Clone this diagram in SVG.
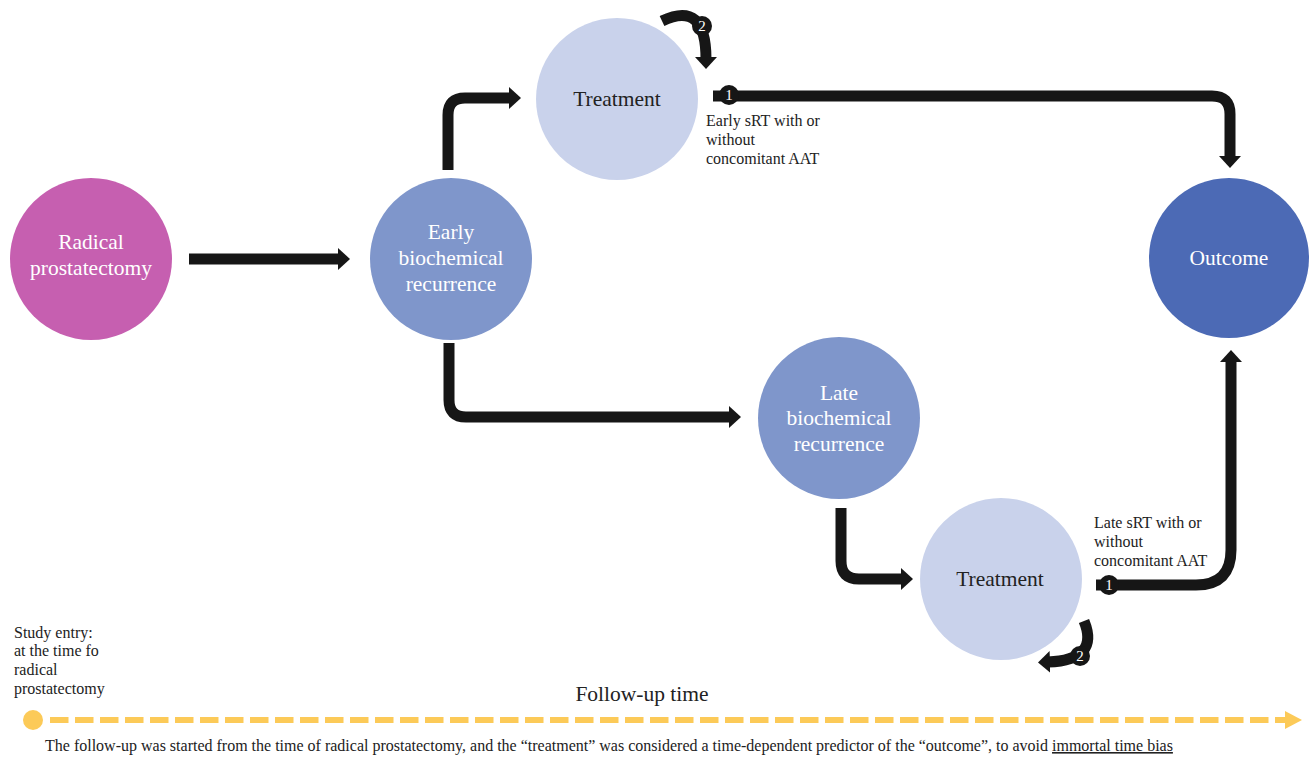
<svg xmlns="http://www.w3.org/2000/svg" width="1309" height="757" viewBox="0 0 1309 757">
<style>
.lbl{font-family:"Liberation Serif","Times New Roman",serif;font-size:21.5px;text-anchor:middle}
.w{fill:#ffffff}
.d{fill:#222222}
.note{font-family:"Liberation Serif","Times New Roman",serif;font-size:16px;fill:#222222}
.cap{font-family:"Liberation Serif","Times New Roman",serif;font-size:16px;fill:#222222}
.conn{fill:none;stroke:#161616;stroke-width:11}
.num{font-family:"Liberation Serif","Times New Roman",serif;font-size:15px;fill:#ffffff;text-anchor:middle}
</style>
<defs>
<marker id="ah" markerUnits="userSpaceOnUse" markerWidth="14" markerHeight="24" refX="2" refY="12" orient="auto">
<path d="M0,1 L12,12 L0,23 Z" fill="#161616"/>
</marker>
<marker id="ya" markerUnits="userSpaceOnUse" markerWidth="18" markerHeight="20" refX="0" refY="10" orient="auto">
<path d="M0,1 L17,10 L0,19 Z" fill="#FCCA58"/>
</marker>
</defs>
<rect width="1309" height="757" fill="#ffffff"/>

<g id="connectors">
<path class="conn" d="M189,259 L340,259" marker-end="url(#ah)"/>
<path class="conn" d="M448,170 L448,115 Q448,98 465,98 L511,98" marker-end="url(#ah)"/>
<path class="conn" d="M449,343 L449,400 Q449,417 466,417 L731,417" marker-end="url(#ah)"/>
<path class="conn" d="M841,508 L841,561 Q841,579 859,579 L903,579" marker-end="url(#ah)"/>
<path class="conn" d="M713,96 L1212,96 Q1230,96 1230,114 L1230,158" marker-end="url(#ah)"/>
<path class="conn" d="M1096,585 L1196,585 Q1231,585 1231,550 L1231,360" marker-end="url(#ah)"/>
<path class="conn" d="M662,21 Q706,0 706,59" marker-end="url(#ah)"/>
<path class="conn" d="M1084,621 Q1100,660 1048,662" marker-end="url(#ah)"/>
<circle cx="729" cy="95" r="10" fill="#161616"/>
<text class="num" x="729" y="100">1</text>
<circle cx="1109" cy="585" r="10" fill="#161616"/>
<text class="num" x="1109" y="590">1</text>
<circle cx="702" cy="26" r="10" fill="#161616"/>
<text class="num" x="702" y="31">2</text>
<circle cx="1080" cy="656" r="10" fill="#161616"/>
<text class="num" x="1080" y="661">2</text>
</g>

<g id="radical">
<circle cx="91" cy="259" r="81" fill="#C65FB0"/>
<text class="lbl w" x="91" y="249">Radical</text>
<text class="lbl w" x="91" y="275">prostatectomy</text>
</g>

<g id="early">
<circle cx="451" cy="259" r="81" fill="#7F96CB"/>
<text class="lbl w" x="451" y="239">Early</text>
<text class="lbl w" x="451" y="265">biochemical</text>
<text class="lbl w" x="451" y="291">recurrence</text>
</g>

<g id="treatment-top">
<circle cx="617" cy="99" r="81" fill="#C9D2EB"/>
<text class="lbl d" x="617" y="106">Treatment</text>
</g>

<g id="outcome">
<circle cx="1229" cy="258" r="80" fill="#4C6AB5"/>
<text class="lbl w" x="1229" y="265">Outcome</text>
</g>

<g id="late">
<circle cx="839" cy="418" r="81" fill="#7F96CB"/>
<text class="lbl w" x="839" y="400">Late</text>
<text class="lbl w" x="839" y="425">biochemical</text>
<text class="lbl w" x="839" y="451">recurrence</text>
</g>

<g id="treatment-bottom">
<circle cx="1001" cy="579" r="81" fill="#C9D2EB"/>
<text class="lbl d" x="1000" y="586">Treatment</text>
</g>

<g id="early-note">
<text class="note" x="706" y="126">Early sRT with or</text>
<text class="note" x="706" y="145">without</text>
<text class="note" x="706" y="164">concomitant AAT</text>
</g>

<g id="late-note">
<text class="note" x="1094" y="528">Late sRT with or</text>
<text class="note" x="1094" y="547">without</text>
<text class="note" x="1094" y="566">concomitant AAT</text>
</g>

<g id="study-entry">
<text class="note" x="14" y="638">Study entry:</text>
<text class="note" x="14" y="656">at the time fo</text>
<text class="note" x="14" y="675">radical</text>
<text class="note" x="14" y="694">prostatectomy</text>
</g>

<g id="timeline">
<text class="lbl d" x="642" y="701">Follow-up time</text>
<circle cx="33" cy="720" r="10" fill="#FCCA58"/>
<line x1="50" y1="720" x2="1285" y2="720" stroke="#FCCA58" stroke-width="6" stroke-dasharray="18.5 6.5" marker-end="url(#ya)"/>
</g>

<g id="caption">
<text class="cap" x="45" y="751">The follow-up was started from the time of radical prostatectomy, and the “treatment” was considered a time-dependent predictor of the “outcome”, to avoid <tspan text-decoration="underline">immortal time bias</tspan></text>
</g>
</svg>
